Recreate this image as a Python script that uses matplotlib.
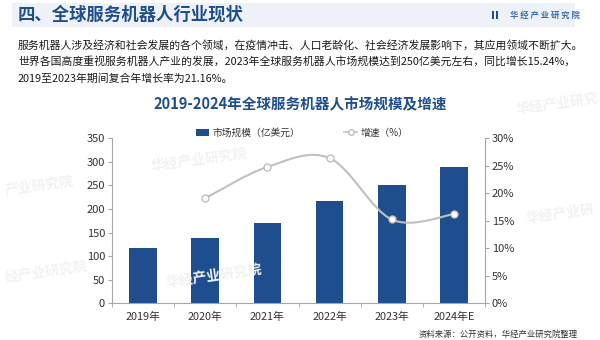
import matplotlib
matplotlib.use("Agg")
import matplotlib.pyplot as plt
from matplotlib.path import Path
from matplotlib.patches import PathPatch, Rectangle
from matplotlib.lines import Line2D
import numpy as np

plt.rcParams['font.family'] = ['Noto Sans CJK SC', 'DejaVu Sans']

categories = ['2019年', '2020年', '2021年', '2022年', '2023年', '2024年E']
market_size = [116.5, 138.5, 171.0, 216.0, 250.0, 290.0]
growth_years = ['2020年', '2021年', '2022年', '2023年', '2024年E']
growth_rate = [19.1, 24.8, 26.4, 15.24, 16.2]
left_ticks = [0, 50, 100, 150, 200, 250, 300, 350]
right_ticks = [0, 5, 10, 15, 20, 25, 30]

BLUE = '#1f4e8f'
TITLE_BLUE = '#1f4e8c'
GRAY = '#c0c0c0'
AXIS = '#a6a6a6'
TXT = '#333333'
WM = '#f1f2f5'

fig = plt.figure(figsize=(6.0, 3.4), dpi=100)
W, H = 600, 340

def fx(px):
    return px / W

def fy(py):
    return 1 - py / H

# faint watermarks
for (wx, wy, txt) in [(4, 186, '产业研究院'), (4, 272, '经产业研究院'),
                      (150, 160, '华经产业研究院'), (165, 276, '华经产业研究院'),
                      (515, 104, '华经产业研究'), (525, 214, '华经产业研')]:
    fig.text(fx(wx), fy(wy), txt, fontsize=10, fontweight='bold', color=WM,
             rotation=8, ha='left', va='center', zorder=0)

# header band
fig.patches.append(Rectangle((fx(12), fy(27)), fx(575) - fx(12), fy(3) - fy(27),
                             transform=fig.transFigure, facecolor='#eef2f8',
                             edgecolor='none', zorder=0))
fig.text(fx(18), fy(15), '四、全球服务机器人行业现状', fontsize=12.5, fontweight='bold',
         color=TITLE_BLUE, va='center', ha='left')
fig.text(fx(580), fy(15), '华 经 产 业 研 究 院', fontsize=6, fontweight='bold',
         color='#3a6db0', va='center', ha='right')
fig.patches.append(Rectangle((fx(492), fy(18.5)), fx(2), fy(11.5) - fy(18.5),
                             transform=fig.transFigure, facecolor='#1f4e8c', edgecolor='none'))
fig.patches.append(Rectangle((fx(495.5), fy(18.5)), fx(2), fy(11.5) - fy(18.5),
                             transform=fig.transFigure, facecolor='#1f4e8c', edgecolor='none'))

para = ['服务机器人涉及经济和社会发展的各个领域，在疫情冲击、人口老龄化、社会经济发展影响下，其应用领域不断扩大。',
        '世界各国高度重视服务机器人产业的发展，2023年全球服务机器人市场规模达到250亿美元左右，同比增长15.24%，',
        '2019至2023年期间复合年增长率为21.16%。']
for i, line in enumerate(para):
    fig.text(fx(18), fy(45 + i * 16.8), line, fontsize=7.8, color='#1a1a1a',
             va='center', ha='left')

fig.text(fx(300), fy(104), '2019-2024年全球服务机器人市场规模及增速', fontsize=10.5,
         fontweight='bold', color=TITLE_BLUE, ha='center', va='center')

ax = fig.add_axes([fx(112), fy(303.3), fx(485) - fx(112), fy(138.3) - fy(303.3)])
ax.set_facecolor('none')
x = np.arange(len(categories))
ax.bar(x, market_size, width=0.445, color=BLUE, zorder=2)
ax.set_xlim(-0.5, len(categories) - 0.5)
ax.set_ylim(0, 350)
ax.set_yticks(left_ticks)
ax.set_yticklabels([str(v) for v in left_ticks])
ax.set_xticks(x)
ax.set_xticklabels(categories)
ax.set_xticks(np.arange(len(categories) + 1) - 0.5, minor=True)
ax.tick_params(axis='x', which='major', length=0, pad=6, labelsize=7.8, colors=TXT)
ax.tick_params(axis='x', which='minor', length=3, color=AXIS, direction='out')
ax.tick_params(axis='y', length=3, color=AXIS, direction='out', labelsize=8,
               labelcolor=TXT, pad=2)
for s in ['top', 'right']:
    ax.spines[s].set_visible(False)
for s in ['left', 'bottom']:
    ax.spines[s].set_color(AXIS)
    ax.spines[s].set_linewidth(0.8)

ax2 = ax.twinx()
ax2.set_ylim(0, 30)
ax2.set_yticks(right_ticks)
ax2.set_yticklabels([f'{v}%' for v in right_ticks])
ax2.tick_params(axis='y', length=3, color=AXIS, direction='out', labelsize=8,
                labelcolor=TXT, pad=2)
for s in ['top', 'left', 'bottom']:
    ax2.spines[s].set_visible(False)
ax2.spines['right'].set_color(AXIS)
ax2.spines['right'].set_linewidth(0.8)

gx = np.array([categories.index(c) for c in growth_years], dtype=float)
gy = np.array(growth_rate, dtype=float)
pts = np.column_stack([gx, gy])
verts = [tuple(pts[0])]
codes = [Path.MOVETO]
n = len(pts)
t = 1.0 / 6.0
for i in range(n - 1):
    p0 = pts[i - 1] if i > 0 else pts[i]
    p1 = pts[i]
    p2 = pts[i + 1]
    p3 = pts[i + 2] if i + 2 < n else pts[i + 1]
    c1 = p1 + (p2 - p0) * t
    c2 = p2 - (p3 - p1) * t
    verts += [tuple(c1), tuple(c2), tuple(p2)]
    codes += [Path.CURVE4] * 3
ax2.add_patch(PathPatch(Path(verts, codes), facecolor='none', edgecolor=GRAY,
                        linewidth=1.5, zorder=3))
ax2.plot(gx, gy, linestyle='none', marker='o', markersize=5, markerfacecolor='white',
         markeredgecolor=GRAY, markeredgewidth=1.0, zorder=4)

handles = [Rectangle((0, 0), 1, 1, facecolor=BLUE),
           Line2D([0], [0], color=GRAY, lw=1.2, marker='o', markersize=4,
                  markerfacecolor='white', markeredgecolor=GRAY)]
fig.legend(handles, ['市场规模（亿美元）', '增速（%）'], loc='center',
           bbox_to_anchor=(fx(302), fy(133)), ncol=2, frameon=False, fontsize=7,
           handlelength=1.4, handleheight=0.8, columnspacing=4.5, handletextpad=0.3,
           labelcolor=TXT)

fig.text(fx(578), fy(334), '资料来源：公开资料，华经产业研究院整理', fontsize=6,
         color=TXT, ha='right', va='center')

fig.savefig('out.png', dpi=100)
